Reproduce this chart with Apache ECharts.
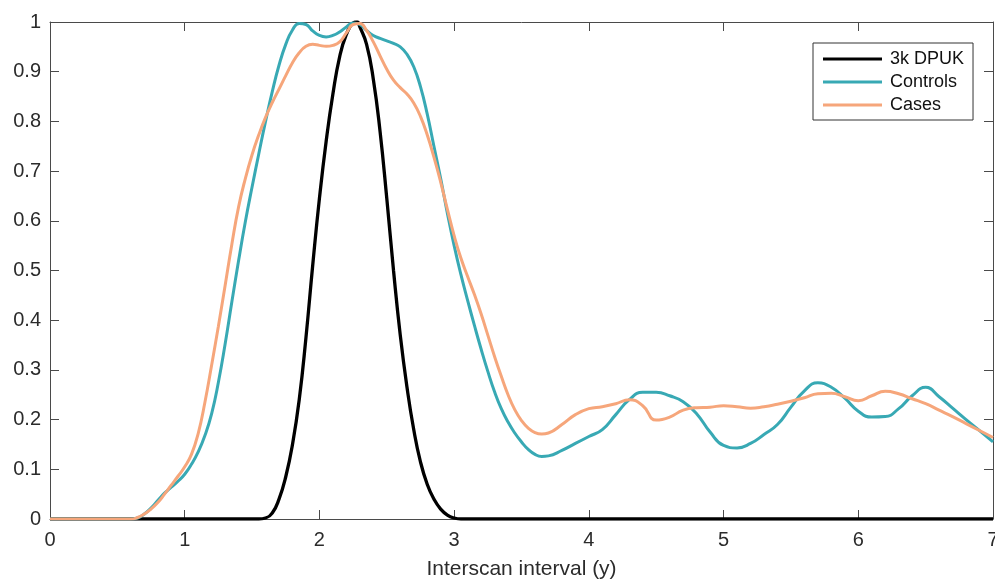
<!DOCTYPE html>
<html>
<head>
<meta charset="utf-8">
<script src="https://cdn.jsdelivr.net/npm/echarts@6/dist/echarts.min.js"></script>
<style>
html,body{margin:0;padding:0;background:#fff;overflow:hidden;}
#chart{width:995px;height:582px;}
</style>
</head>
<body>
<div id="chart"></div>
<script>
// ---- Data ----
var seriesNames = ['3k DPUK', 'Controls', 'Cases'];
var xTicks = [0, 1, 2, 3, 4, 5, 6, 7];
var yTicks = [0, 0.1, 0.2, 0.3, 0.4, 0.5, 0.6, 0.7, 0.8, 0.9, 1];
var xTitle = 'Interscan interval (y)';

var dpukX = [0, 0.5, 1.0, 1.4, 1.5, 1.55, 1.6, 1.65, 1.7, 1.75, 1.8, 1.85, 1.9, 1.95, 2.0, 2.05, 2.1, 2.15, 2.2, 2.25, 2.28, 2.3, 2.35, 2.4, 2.45, 2.5, 2.55, 2.6, 2.65, 2.7, 2.75, 2.8, 2.85, 2.9, 2.95, 3.0, 3.05, 3.1, 3.2, 3.5, 4, 5, 6, 7];
var dpukY = [0, 0, 0, 0, 0, 0, 0.002, 0.012, 0.04, 0.085, 0.15, 0.24, 0.365, 0.51, 0.645, 0.76, 0.855, 0.93, 0.975, 0.998, 1.0, 0.99, 0.955, 0.885, 0.78, 0.645, 0.5, 0.37, 0.265, 0.18, 0.115, 0.07, 0.04, 0.02, 0.008, 0.002, 0, 0, 0, 0, 0, 0, 0, 0];

var ctrlX = [0, 0.3, 0.6, 0.65, 0.7, 0.75, 0.8, 0.85, 0.9, 0.95, 1.0, 1.05, 1.1, 1.15, 1.2, 1.25, 1.3, 1.35, 1.4, 1.45, 1.5, 1.55, 1.6, 1.65, 1.7, 1.75, 1.8, 1.85, 1.9, 1.95, 2.0, 2.05, 2.1, 2.15, 2.2, 2.25, 2.3, 2.35, 2.4, 2.45, 2.5, 2.55, 2.6, 2.65, 2.7, 2.75, 2.8, 2.85, 2.9, 2.95, 3.0, 3.05, 3.1, 3.15, 3.2, 3.25, 3.3, 3.35, 3.4, 3.45, 3.5, 3.55, 3.6, 3.65, 3.7, 3.8, 3.9, 4.0, 4.1, 4.2, 4.3, 4.4, 4.5, 4.6, 4.7, 4.8, 4.9, 5.0, 5.1, 5.2, 5.3, 5.4, 5.5, 5.6, 5.7, 5.8, 5.9, 6.0, 6.1, 6.2, 6.3, 6.4, 6.5, 6.6, 6.7, 6.8, 6.9, 7.0];
var ctrlY = [0, 0, 0, 0.002, 0.01, 0.022, 0.037, 0.052, 0.064, 0.076, 0.09, 0.11, 0.135, 0.168, 0.212, 0.275, 0.352, 0.437, 0.52, 0.598, 0.668, 0.735, 0.8, 0.86, 0.913, 0.955, 0.984, 0.997, 0.995, 0.982, 0.973, 0.97, 0.973, 0.98, 0.99, 0.998, 0.995, 0.983, 0.973, 0.967, 0.962, 0.957, 0.95, 0.935, 0.91, 0.87, 0.815, 0.75, 0.685, 0.615, 0.55, 0.492, 0.44, 0.39, 0.342, 0.297, 0.256, 0.222, 0.195, 0.173, 0.155, 0.14, 0.13, 0.126, 0.127, 0.138, 0.152, 0.166, 0.18, 0.21, 0.24, 0.255, 0.255, 0.248, 0.236, 0.212, 0.175, 0.148, 0.143, 0.152, 0.17, 0.19, 0.225, 0.258, 0.274, 0.265, 0.243, 0.217, 0.205, 0.206, 0.222, 0.248, 0.265, 0.246, 0.223, 0.2, 0.178, 0.155];

var caseX = [0, 0.3, 0.6, 0.65, 0.7, 0.75, 0.8, 0.85, 0.9, 0.95, 1.0, 1.05, 1.1, 1.15, 1.2, 1.25, 1.3, 1.35, 1.4, 1.45, 1.5, 1.55, 1.6, 1.65, 1.7, 1.75, 1.8, 1.85, 1.9, 1.95, 2.0, 2.05, 2.1, 2.15, 2.2, 2.25, 2.3, 2.35, 2.4, 2.45, 2.5, 2.55, 2.6, 2.65, 2.7, 2.75, 2.8, 2.85, 2.9, 2.95, 3.0, 3.05, 3.1, 3.15, 3.2, 3.25, 3.3, 3.35, 3.4, 3.45, 3.5, 3.55, 3.6, 3.65, 3.7, 3.8, 3.9, 4.0, 4.1, 4.2, 4.3, 4.4, 4.5, 4.6, 4.7, 4.8, 4.9, 5.0, 5.1, 5.2, 5.3, 5.4, 5.5, 5.6, 5.7, 5.8, 5.9, 6.0, 6.1, 6.2, 6.3, 6.4, 6.5, 6.6, 6.7, 6.8, 6.9, 7.0];
var caseY = [0, 0, 0, 0.003, 0.01, 0.02, 0.033, 0.05, 0.068, 0.086, 0.105, 0.13, 0.172, 0.235, 0.31, 0.388, 0.47, 0.553, 0.628, 0.685, 0.733, 0.773, 0.808, 0.838, 0.865, 0.892, 0.918, 0.938, 0.951, 0.955, 0.953, 0.951, 0.953, 0.96, 0.978, 0.995, 0.997, 0.983, 0.96, 0.932, 0.905, 0.883, 0.868, 0.855, 0.837, 0.81, 0.773, 0.728, 0.678, 0.623, 0.57, 0.525, 0.488, 0.452, 0.413, 0.37, 0.327, 0.287, 0.25, 0.22, 0.198, 0.183, 0.174, 0.171, 0.173, 0.19, 0.21, 0.222, 0.226, 0.232, 0.24, 0.228, 0.199, 0.205, 0.219, 0.224, 0.225, 0.228, 0.226, 0.223, 0.226, 0.231, 0.237, 0.244, 0.252, 0.253, 0.246, 0.238, 0.248, 0.257, 0.252, 0.242, 0.232, 0.219, 0.206, 0.192, 0.178, 0.164];

function pairs(xs, ys) { return xs.map(function (x, i) { return [x, ys[i]]; }); }

var colors = ['#000000', '#38a9b4', '#f6a67b'];
var FONT = '"Liberation Sans", Arial, Helvetica, sans-serif';
var axisCol = '#4a4a4a';
var textCol = '#2b2b2b';

var chart = echarts.init(document.getElementById('chart'), null, {renderer: 'canvas'});

var xBase = {
  type: 'value', min: xTicks[0], max: xTicks[xTicks.length - 1], interval: 1,
  splitLine: {show: false},
  axisLine: {show: true, onZero: false, lineStyle: {color: axisCol, width: 1}},
  axisTick: {show: true, inside: true, length: 9, lineStyle: {color: axisCol, width: 1}}
};
var yBase = {
  type: 'value', min: yTicks[0], max: yTicks[yTicks.length - 1], interval: 0.1,
  splitLine: {show: false},
  axisLine: {show: true, onZero: false, lineStyle: {color: axisCol, width: 1}},
  axisTick: {show: true, inside: true, length: 9, lineStyle: {color: axisCol, width: 1}}
};

var option = {
  animation: false,
  backgroundColor: '#ffffff',
  textStyle: {fontFamily: FONT},
  grid: {left: 50, right: 2, top: 22, bottom: 63, containLabel: false, outerBoundsMode: 'none'},
  legend: {
    show: true,
    orient: 'vertical',
    left: 813, top: 43,
    backgroundColor: '#ffffff',
    borderColor: '#333333', borderWidth: 1, borderRadius: 0,
    padding: [7, 9, 6, 10],
    itemGap: 5,
    itemWidth: 59, itemHeight: 3,
    textStyle: {fontFamily: FONT, fontSize: 18, color: '#111', padding: [0, 0, 0, 3], lineHeight: 18},
    data: [
      {name: seriesNames[0], icon: 'rect', itemStyle: {color: colors[0]}},
      {name: seriesNames[1], icon: 'rect', itemStyle: {color: colors[1]}},
      {name: seriesNames[2], icon: 'rect', itemStyle: {color: colors[2]}}
    ]
  },
  xAxis: [
    Object.assign({}, xBase, {
      position: 'bottom',
      name: xTitle, nameLocation: 'middle', nameGap: 40,
      nameTextStyle: {fontFamily: FONT, fontSize: 21, color: textCol},
      axisLabel: {show: true, margin: 11, fontFamily: FONT, fontSize: 20, color: textCol,
        formatter: function (v) { return String(v); }}
    }),
    Object.assign({}, xBase, {position: 'top', axisLabel: {show: false}})
  ],
  yAxis: [
    Object.assign({}, yBase, {
      position: 'left',
      axisLabel: {show: true, margin: 9, fontFamily: FONT, fontSize: 20, color: textCol,
        formatter: function (v) { return String(Math.round(v * 10) / 10); }}
    }),
    Object.assign({}, yBase, {position: 'right', axisLabel: {show: false}})
  ],
  series: [
    {name: seriesNames[0], type: 'line', data: pairs(dpukX, dpukY), xAxisIndex: 0, yAxisIndex: 0,
      showSymbol: false, symbol: 'none', smooth: 0.5, color: colors[0],
      lineStyle: {color: colors[0], width: 3.3}},
    {name: seriesNames[1], type: 'line', data: pairs(ctrlX, ctrlY), xAxisIndex: 0, yAxisIndex: 0,
      showSymbol: false, symbol: 'none', smooth: 0.5, color: colors[1],
      lineStyle: {color: colors[1], width: 3}},
    {name: seriesNames[2], type: 'line', data: pairs(caseX, caseY), xAxisIndex: 0, yAxisIndex: 0,
      showSymbol: false, symbol: 'none', smooth: 0.5, color: colors[2],
      lineStyle: {color: colors[2], width: 3}}
  ]
};
chart.setOption(option);
</script>
</body>
</html>
